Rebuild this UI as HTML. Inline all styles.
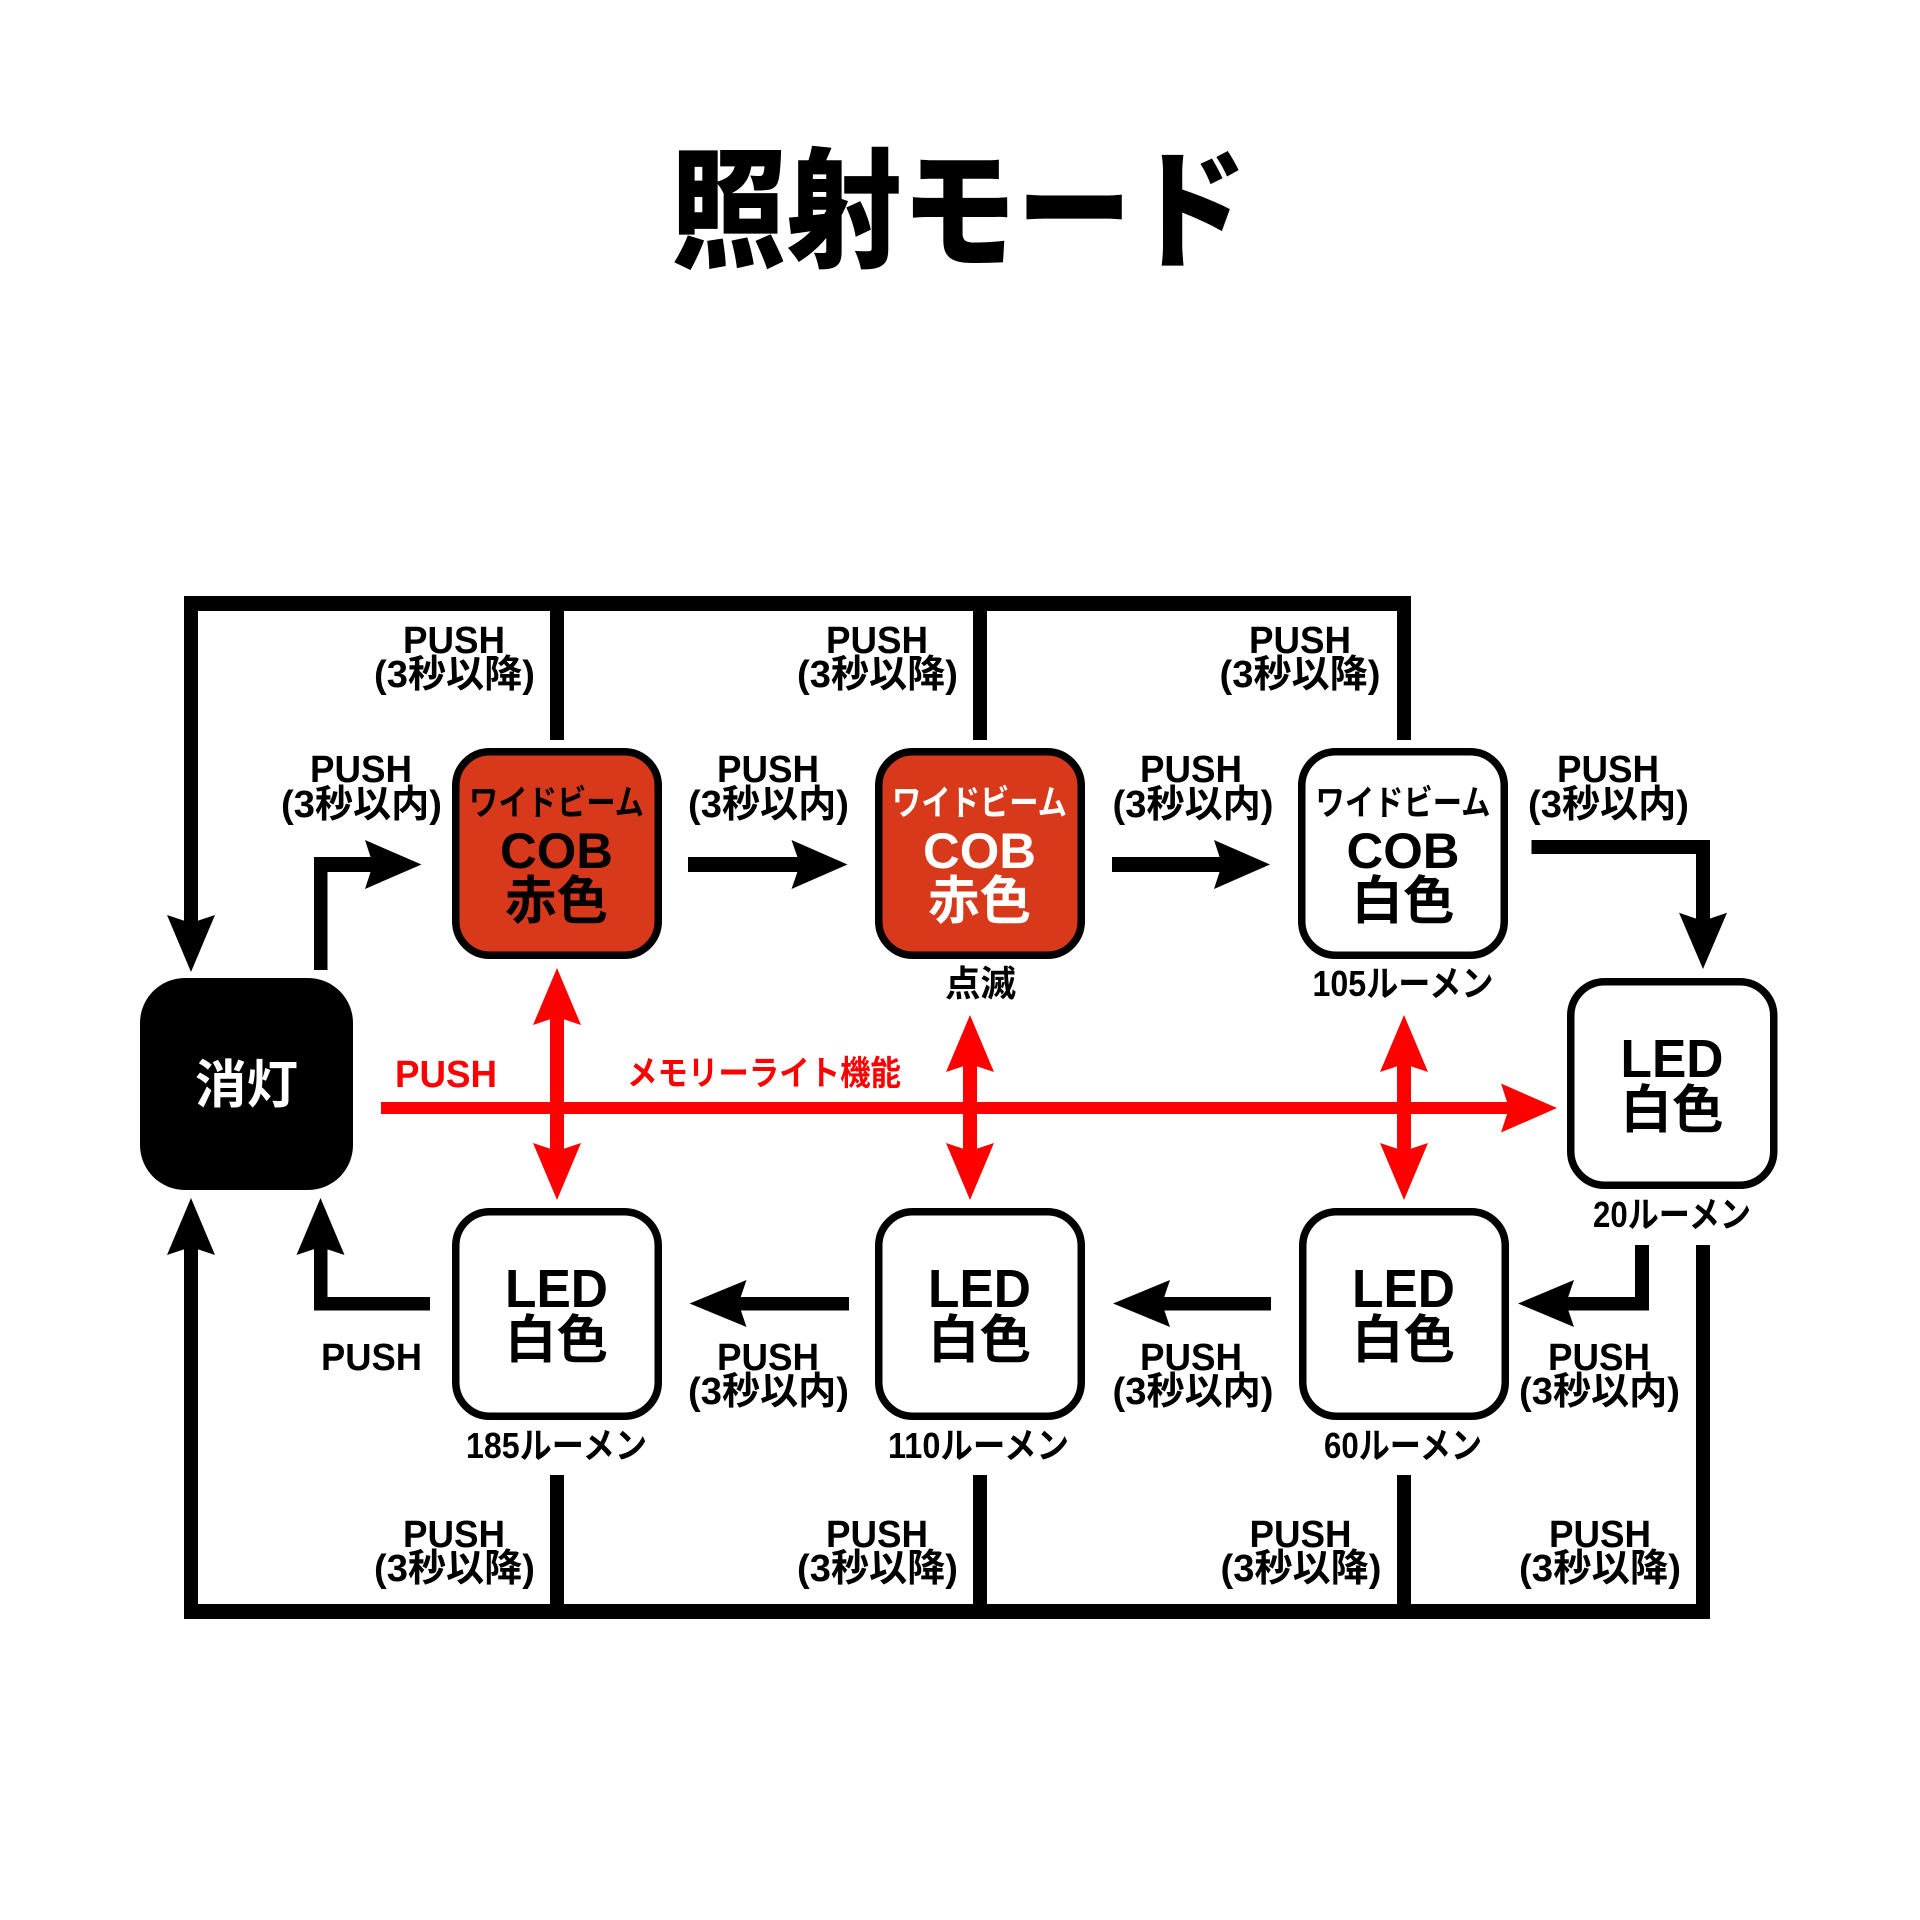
<!DOCTYPE html>
<html>
<head>
<meta charset="utf-8">
<style>
html,body{margin:0;padding:0;background:#fff;}
svg{display:block;}
text{font-family:"Liberation Sans","Noto Sans CJK JP",sans-serif;font-weight:700;text-anchor:middle;}
</style>
</head>
<body>
<svg width="1920" height="1920" viewBox="0 0 1920 1920" xmlns="http://www.w3.org/2000/svg">
<rect x="0" y="0" width="1920" height="1920" fill="#fff"/>

<!-- Title -->
<text x="959" y="257" font-size="130" textLength="576" lengthAdjust="spacingAndGlyphs" style="font-weight:900">照射モード</text>

<!-- ===== Black connectors ===== -->
<g fill="#000">
  <!-- top frame -->
  <rect x="184" y="596" width="1227" height="15"/>
  <rect x="184" y="596" width="14" height="329"/>
  <polygon points="191,972 215,915 191,923 167,915"/>
  <rect x="550" y="596" width="14" height="144"/>
  <rect x="973" y="596" width="14" height="144"/>
  <rect x="1397" y="596" width="14" height="144"/>

  <!-- elbow from 消灯 to box1 -->
  <rect x="314" y="857" width="13.5" height="113"/>
  <rect x="314" y="857" width="60" height="15"/>
  <polygon points="421.5,864.5 365,840 373,864.5 365,889"/>

  <!-- box1 -> box2 -->
  <rect x="688" y="857" width="113" height="15"/>
  <polygon points="847.5,864.5 791.5,840 800,864.5 791.5,889"/>
  <!-- box2 -> box3 -->
  <rect x="1112" y="857" width="112" height="15"/>
  <polygon points="1270,864.5 1214,840 1222,864.5 1214,889"/>
  <!-- box3 -> box4 elbow -->
  <rect x="1531.5" y="840" width="178.5" height="14"/>
  <rect x="1696" y="840" width="14" height="82"/>
  <polygon points="1703,969 1727,912.7 1703,921 1679,912.7"/>

  <!-- bottom-left up arrows to 消灯 -->
  <rect x="184" y="1246" width="14" height="373"/>
  <polygon points="191,1198 215,1255 191,1247 167,1255"/>
  <rect x="314" y="1246" width="13.5" height="64"/>
  <rect x="314" y="1297" width="116" height="13.5"/>
  <polygon points="320.5,1198 344.5,1255 320.5,1247 296.5,1255"/>

  <!-- LED2 -> LED1 -->
  <rect x="737" y="1297" width="112" height="13.5"/>
  <polygon points="689.6,1303.5 746.5,1280 738.5,1303.5 746.5,1327"/>
  <!-- LED3 -> LED2 -->
  <rect x="1161" y="1297" width="110" height="13.5"/>
  <polygon points="1113,1303.5 1170,1280 1162,1303.5 1170,1327"/>
  <!-- LED4 -> LED3 elbow -->
  <rect x="1635" y="1245" width="14" height="65.5"/>
  <rect x="1565" y="1297" width="84" height="13.5"/>
  <polygon points="1518,1303.5 1574,1280 1566,1303.5 1574,1327"/>

  <!-- right vertical and bottom frame -->
  <rect x="1696" y="1245" width="14" height="374"/>
  <rect x="184" y="1604" width="1526" height="15"/>
  <rect x="550" y="1475" width="14" height="130"/>
  <rect x="973" y="1475" width="14" height="130"/>
  <rect x="1397" y="1475" width="14" height="130"/>
</g>

<!-- ===== Red memory-light arrows ===== -->
<g fill="#ff0000">
  <rect x="381" y="1102" width="1129" height="12"/>
  <polygon points="1557,1108 1501,1083.5 1509,1108 1501,1132.5"/>

  <rect x="550" y="1016" width="14" height="136"/>
  <polygon points="557,968 581,1025 557,1017 533,1025"/>
  <polygon points="557,1200 581,1143 557,1151 533,1143"/>

  <rect x="963" y="1063" width="14" height="89"/>
  <polygon points="970,1015 994,1072 970,1064 946,1072"/>
  <polygon points="970,1200 994,1143 970,1151 946,1143"/>

  <rect x="1397" y="1063" width="14" height="89"/>
  <polygon points="1404,1015 1428,1072 1404,1064 1380,1072"/>
  <polygon points="1404,1200 1428,1143 1404,1151 1380,1143"/>
</g>

<!-- ===== Boxes ===== -->
<rect x="140" y="978" width="213" height="212" rx="45" ry="45" fill="#000"/>

<g stroke="#000" stroke-width="7.5">
  <rect x="455.75" y="751.75" width="202.5" height="203.5" rx="34" ry="34" fill="#d8391b"/>
  <rect x="878.75" y="751.75" width="202.5" height="203.5" rx="34" ry="34" fill="#d8391b"/>
  <rect x="1301.75" y="751.75" width="202.5" height="203.5" rx="34" ry="34" fill="#fff"/>
  <rect x="1570.75" y="981.75" width="203" height="203.5" rx="34" ry="34" fill="#fff"/>
  <rect x="455.75" y="1211.75" width="202.5" height="204.5" rx="34" ry="34" fill="#fff"/>
  <rect x="878.75" y="1211.75" width="202.5" height="204.5" rx="34" ry="34" fill="#fff"/>
  <rect x="1302.75" y="1211.75" width="202.5" height="204.5" rx="34" ry="34" fill="#fff"/>
</g>

<!-- ===== Box texts ===== -->
<text x="246.5" y="1103" font-size="52" textLength="103" lengthAdjust="spacingAndGlyphs" fill="#fff">消灯</text>

<text x="556.5" y="815" font-size="35" textLength="175" lengthAdjust="spacingAndGlyphs" fill="#000">ワイドビーム</text>
<text x="556.5" y="868" font-size="50" textLength="113" lengthAdjust="spacingAndGlyphs" fill="#000">COB</text>
<text x="556.5" y="919" font-size="52" textLength="103" lengthAdjust="spacingAndGlyphs" fill="#000">赤色</text>

<text x="979.5" y="815" font-size="35" textLength="175" lengthAdjust="spacingAndGlyphs" fill="#fff">ワイドビーム</text>
<text x="979.5" y="868" font-size="50" textLength="113" lengthAdjust="spacingAndGlyphs" fill="#fff">COB</text>
<text x="979.5" y="919" font-size="52" textLength="103" lengthAdjust="spacingAndGlyphs" fill="#fff">赤色</text>

<text x="1403" y="815" font-size="35" textLength="175" lengthAdjust="spacingAndGlyphs" fill="#000">ワイドビーム</text>
<text x="1403" y="868" font-size="50" textLength="113" lengthAdjust="spacingAndGlyphs" fill="#000">COB</text>
<text x="1403" y="919" font-size="52" textLength="103" lengthAdjust="spacingAndGlyphs" fill="#000">白色</text>

<text x="1672" y="1077" font-size="54" textLength="103" lengthAdjust="spacingAndGlyphs">LED</text>
<text x="1672" y="1128" font-size="52" textLength="103" lengthAdjust="spacingAndGlyphs">白色</text>

<text x="556.5" y="1307" font-size="54" textLength="103" lengthAdjust="spacingAndGlyphs">LED</text>
<text x="556.5" y="1358" font-size="52" textLength="103" lengthAdjust="spacingAndGlyphs">白色</text>
<text x="979.5" y="1307" font-size="54" textLength="103" lengthAdjust="spacingAndGlyphs">LED</text>
<text x="979.5" y="1358" font-size="52" textLength="103" lengthAdjust="spacingAndGlyphs">白色</text>
<text x="1403.5" y="1307" font-size="54" textLength="103" lengthAdjust="spacingAndGlyphs">LED</text>
<text x="1403.5" y="1358" font-size="52" textLength="103" lengthAdjust="spacingAndGlyphs">白色</text>

<!-- ===== Sub labels ===== -->
<g font-size="36">
  <text x="980.5" y="996" textLength="71" lengthAdjust="spacingAndGlyphs">点滅</text>
  <text x="1403" y="996" textLength="181" lengthAdjust="spacingAndGlyphs">105ルーメン</text>
  <text x="1672" y="1227" textLength="158" lengthAdjust="spacingAndGlyphs">20ルーメン</text>
  <text x="556.5" y="1458" textLength="181" lengthAdjust="spacingAndGlyphs">185ルーメン</text>
  <text x="978.5" y="1458" textLength="181" lengthAdjust="spacingAndGlyphs">110ルーメン</text>
  <text x="1403" y="1458" textLength="158" lengthAdjust="spacingAndGlyphs">60ルーメン</text>
</g>

<!-- ===== PUSH labels ===== -->
<g font-size="38">
  <!-- top 3秒以降 -->
  <text x="454" y="653" textLength="102" lengthAdjust="spacingAndGlyphs">PUSH</text>
  <text x="454.5" y="687" textLength="161" lengthAdjust="spacingAndGlyphs">(3秒以降)</text>
  <text x="877" y="653" textLength="102" lengthAdjust="spacingAndGlyphs">PUSH</text>
  <text x="877.5" y="687" textLength="161" lengthAdjust="spacingAndGlyphs">(3秒以降)</text>
  <text x="1300" y="653" textLength="102" lengthAdjust="spacingAndGlyphs">PUSH</text>
  <text x="1300" y="687" textLength="161" lengthAdjust="spacingAndGlyphs">(3秒以降)</text>

  <!-- top 3秒以内 -->
  <text x="361" y="782" textLength="102" lengthAdjust="spacingAndGlyphs">PUSH</text>
  <text x="361.5" y="817" textLength="161" lengthAdjust="spacingAndGlyphs">(3秒以内)</text>
  <text x="768" y="782" textLength="102" lengthAdjust="spacingAndGlyphs">PUSH</text>
  <text x="768.5" y="817" textLength="161" lengthAdjust="spacingAndGlyphs">(3秒以内)</text>
  <text x="1191" y="782" textLength="102" lengthAdjust="spacingAndGlyphs">PUSH</text>
  <text x="1193" y="817" textLength="161" lengthAdjust="spacingAndGlyphs">(3秒以内)</text>
  <text x="1608" y="782" textLength="102" lengthAdjust="spacingAndGlyphs">PUSH</text>
  <text x="1608.5" y="817" textLength="161" lengthAdjust="spacingAndGlyphs">(3秒以内)</text>

  <!-- bottom row -->
  <text x="371.5" y="1370" textLength="101" lengthAdjust="spacingAndGlyphs">PUSH</text>
  <text x="768" y="1370" textLength="102" lengthAdjust="spacingAndGlyphs">PUSH</text>
  <text x="768.5" y="1404" textLength="161" lengthAdjust="spacingAndGlyphs">(3秒以内)</text>
  <text x="1191" y="1370" textLength="102" lengthAdjust="spacingAndGlyphs">PUSH</text>
  <text x="1193" y="1404" textLength="161" lengthAdjust="spacingAndGlyphs">(3秒以内)</text>
  <text x="1599" y="1370" textLength="102" lengthAdjust="spacingAndGlyphs">PUSH</text>
  <text x="1599.5" y="1404" textLength="161" lengthAdjust="spacingAndGlyphs">(3秒以内)</text>

  <!-- bottom 3秒以降 -->
  <text x="454" y="1547" textLength="102" lengthAdjust="spacingAndGlyphs">PUSH</text>
  <text x="454.5" y="1581" textLength="161" lengthAdjust="spacingAndGlyphs">(3秒以降)</text>
  <text x="877" y="1547" textLength="102" lengthAdjust="spacingAndGlyphs">PUSH</text>
  <text x="877.5" y="1581" textLength="161" lengthAdjust="spacingAndGlyphs">(3秒以降)</text>
  <text x="1300.5" y="1547" textLength="102" lengthAdjust="spacingAndGlyphs">PUSH</text>
  <text x="1301" y="1581" textLength="161" lengthAdjust="spacingAndGlyphs">(3秒以降)</text>
  <text x="1600" y="1547" textLength="102" lengthAdjust="spacingAndGlyphs">PUSH</text>
  <text x="1600" y="1581" textLength="162" lengthAdjust="spacingAndGlyphs">(3秒以降)</text>

  <!-- red -->
  <text x="446" y="1087" textLength="102" lengthAdjust="spacingAndGlyphs" fill="#ff0000">PUSH</text>
</g>
<text x="764" y="1085" font-size="34" textLength="274" lengthAdjust="spacingAndGlyphs" fill="#ff0000">メモリーライト機能</text>
</svg>
</body>
</html>
